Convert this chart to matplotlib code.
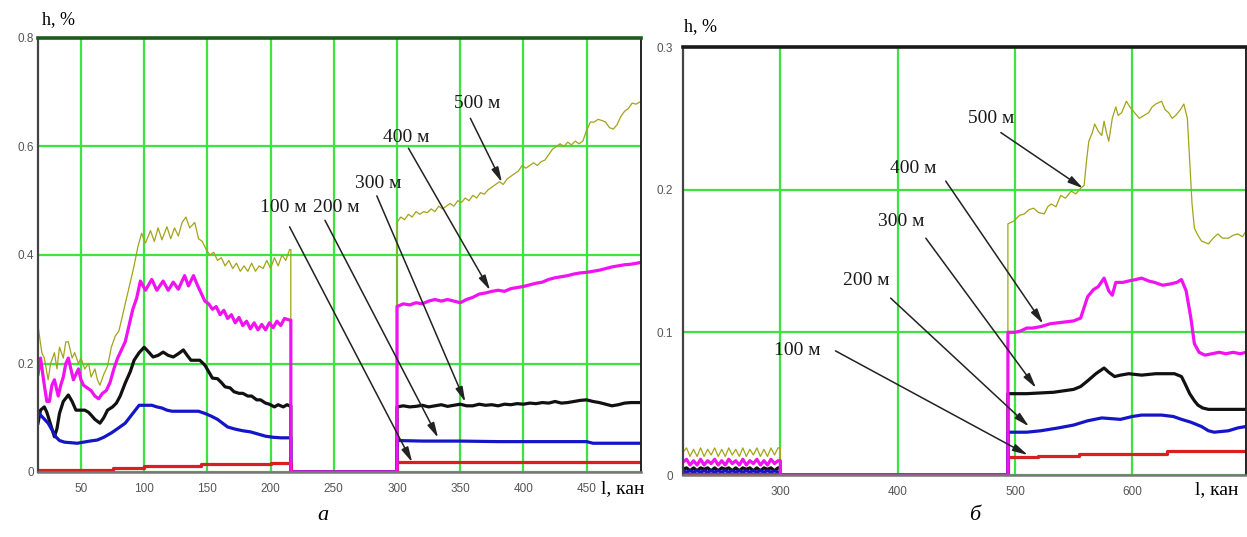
import matplotlib
matplotlib.use("Agg")
import matplotlib.pyplot as plt

# ---------------- data: panel "а" (channels 16..492) ----------------
gap_a = (216, 300)
xlim_a = (16, 493)

olive_a1 = [(16, 0.27), (19, 0.22), (21, 0.21), (24, 0.17), (26, 0.20), (29, 0.22), (31, 0.19),
            (33, 0.23), (36, 0.21), (38, 0.24), (40, 0.24), (43, 0.21), (45, 0.22), (48, 0.20),
            (50, 0.21), (53, 0.19), (56, 0.20), (58, 0.175), (61, 0.19), (63, 0.17), (65, 0.16),
            (68, 0.18), (71, 0.195), (74, 0.23), (77, 0.25), (80, 0.26), (83, 0.29), (86, 0.32),
            (89, 0.35), (92, 0.38), (95, 0.415), (98, 0.44), (101, 0.422), (105, 0.445), (108, 0.425),
            (111, 0.45), (114, 0.428), (118, 0.452), (121, 0.43), (124, 0.45), (127, 0.435),
            (130, 0.46), (133, 0.47), (136, 0.45), (140, 0.46), (143, 0.43), (146, 0.425),
            (149, 0.41), (152, 0.40), (155, 0.405), (158, 0.39), (161, 0.395), (164, 0.38),
            (167, 0.39), (170, 0.375), (173, 0.385), (176, 0.37), (179, 0.38), (182, 0.37),
            (185, 0.385), (188, 0.37), (191, 0.38), (194, 0.375), (197, 0.39), (200, 0.375),
            (203, 0.395), (206, 0.38), (209, 0.40), (212, 0.39), (215, 0.41)]
olive_a2 = [(300, 0.46), (303, 0.47), (306, 0.465), (309, 0.475), (312, 0.47), (315, 0.48),
            (318, 0.475), (321, 0.48), (324, 0.478), (327, 0.485), (330, 0.48), (333, 0.49),
            (336, 0.485), (339, 0.49), (342, 0.495), (345, 0.49), (348, 0.50), (351, 0.497),
            (354, 0.505), (357, 0.50), (360, 0.51), (363, 0.505), (366, 0.515), (369, 0.512),
            (372, 0.52), (375, 0.525), (378, 0.53), (381, 0.535), (384, 0.53), (387, 0.54),
            (390, 0.545), (393, 0.55), (396, 0.555), (399, 0.565), (402, 0.56), (405, 0.565),
            (408, 0.57), (411, 0.565), (414, 0.572), (417, 0.575), (420, 0.585), (423, 0.595),
            (426, 0.60), (429, 0.605), (432, 0.60), (435, 0.608), (438, 0.603), (441, 0.61),
            (444, 0.605), (447, 0.61), (450, 0.63), (453, 0.645), (456, 0.645), (459, 0.65),
            (462, 0.648), (465, 0.645), (468, 0.635), (471, 0.632), (474, 0.64), (477, 0.655),
            (480, 0.665), (483, 0.67), (486, 0.68), (489, 0.678), (492, 0.682)]

magenta_a1 = [(16, 0.18), (18, 0.21), (21, 0.16), (23, 0.13), (25, 0.13), (27, 0.16), (29, 0.17),
              (32, 0.14), (34, 0.16), (36, 0.175), (38, 0.20), (40, 0.21), (42, 0.19), (44, 0.17),
              (46, 0.18), (48, 0.19), (50, 0.17), (52, 0.16), (55, 0.155), (58, 0.15), (61, 0.14),
              (64, 0.135), (67, 0.145), (70, 0.15), (73, 0.165), (76, 0.19), (79, 0.21), (82, 0.225),
              (85, 0.24), (88, 0.27), (91, 0.30), (94, 0.32), (97, 0.352), (101, 0.335), (106, 0.355),
              (110, 0.335), (115, 0.352), (119, 0.335), (123, 0.35), (127, 0.337), (132, 0.362),
              (135, 0.343), (139, 0.362), (142, 0.345), (145, 0.33), (148, 0.315), (151, 0.31),
              (154, 0.30), (157, 0.305), (160, 0.29), (163, 0.298), (166, 0.283), (169, 0.29),
              (172, 0.275), (175, 0.285), (178, 0.27), (181, 0.278), (184, 0.264), (187, 0.275),
              (190, 0.262), (193, 0.272), (196, 0.262), (199, 0.275), (202, 0.266), (205, 0.278),
              (208, 0.27), (211, 0.283), (215, 0.28)]
magenta_a2 = [(300, 0.305), (305, 0.31), (310, 0.308), (315, 0.312), (320, 0.31), (325, 0.315),
              (330, 0.318), (335, 0.315), (340, 0.318), (345, 0.315), (350, 0.312), (355, 0.318),
              (360, 0.322), (365, 0.328), (370, 0.33), (375, 0.333), (380, 0.335), (385, 0.333),
              (390, 0.338), (395, 0.34), (400, 0.342), (405, 0.345), (410, 0.348), (415, 0.35),
              (420, 0.355), (425, 0.358), (430, 0.36), (435, 0.362), (440, 0.365), (445, 0.367),
              (450, 0.368), (455, 0.37), (460, 0.372), (465, 0.375), (470, 0.378), (475, 0.38),
              (480, 0.382), (485, 0.383), (490, 0.385), (492, 0.386)]

black_a1 = [(16, 0.09), (18, 0.114), (21, 0.12), (23, 0.11), (25, 0.095), (27, 0.08), (29, 0.065),
            (31, 0.08), (33, 0.108), (36, 0.13), (40, 0.142), (43, 0.13), (46, 0.114), (50, 0.114),
            (53, 0.114), (56, 0.11), (58, 0.105), (61, 0.097), (65, 0.09), (68, 0.10), (71, 0.114),
            (75, 0.12), (78, 0.127), (81, 0.14), (85, 0.164), (89, 0.185), (92, 0.206), (96, 0.22),
            (100, 0.23), (104, 0.22), (107, 0.212), (111, 0.215), (115, 0.221), (119, 0.215),
            (123, 0.212), (127, 0.218), (131, 0.225), (134, 0.215), (137, 0.206), (141, 0.206),
            (144, 0.206), (148, 0.197), (151, 0.185), (154, 0.173), (158, 0.172), (161, 0.165),
            (164, 0.157), (168, 0.155), (171, 0.148), (175, 0.145), (178, 0.145), (182, 0.14),
            (185, 0.14), (189, 0.133), (192, 0.133), (196, 0.127), (199, 0.125), (203, 0.12),
            (206, 0.124), (210, 0.12), (213, 0.124), (215, 0.122)]
black_a2 = [(300, 0.12), (305, 0.122), (310, 0.12), (315, 0.121), (320, 0.123), (325, 0.12),
            (330, 0.122), (335, 0.124), (340, 0.121), (345, 0.123), (350, 0.125), (355, 0.122),
            (360, 0.122), (365, 0.125), (370, 0.123), (375, 0.124), (380, 0.122), (385, 0.125),
            (390, 0.124), (395, 0.126), (400, 0.125), (405, 0.127), (410, 0.126), (415, 0.128),
            (420, 0.127), (425, 0.13), (430, 0.127), (435, 0.128), (440, 0.13), (445, 0.132),
            (450, 0.133), (455, 0.13), (460, 0.128), (465, 0.125), (470, 0.122), (475, 0.124),
            (480, 0.127), (485, 0.128), (490, 0.128), (492, 0.128)]

blue_a1 = [(16, 0.11), (20, 0.10), (24, 0.09), (27, 0.078), (30, 0.065), (33, 0.058), (37, 0.055),
           (42, 0.054), (47, 0.053), (52, 0.055), (57, 0.057), (63, 0.059), (68, 0.064), (74, 0.072),
           (79, 0.08), (85, 0.09), (89, 0.102), (93, 0.114), (96, 0.123), (100, 0.123), (106, 0.123),
           (110, 0.12), (114, 0.118), (118, 0.114), (122, 0.112), (130, 0.112), (136, 0.112),
           (143, 0.112), (148, 0.108), (153, 0.103), (158, 0.097), (162, 0.09), (166, 0.083),
           (172, 0.079), (178, 0.076), (184, 0.074), (190, 0.07), (196, 0.066), (202, 0.064),
           (208, 0.063), (215, 0.063)]
blue_a2 = [(300, 0.058), (320, 0.057), (350, 0.057), (380, 0.056), (410, 0.056), (450, 0.056),
           (455, 0.053), (470, 0.053), (492, 0.053)]

red_a1 = [(16, 0.004), (75, 0.004), (75, 0.008), (100, 0.008), (100, 0.011), (145, 0.011),
          (145, 0.014), (200, 0.014), (200, 0.017), (215, 0.017)]
red_a2 = [(300, 0.018), (400, 0.018), (492, 0.018)]

# ---------------- data: panel "б" (channels 217..697) ----------------
gap_b = (300, 494)
xlim_b = (217, 697)
x_small = [217, 220, 223, 226, 229, 232, 235, 238, 241, 244, 247, 250, 253, 256,
           259, 262, 265, 268, 271, 274, 277, 280, 283, 286, 289, 292, 295, 298]
olive_b1 = [0.016, 0.019, 0.013, 0.018, 0.013, 0.019, 0.013, 0.018, 0.014, 0.019, 0.013, 0.018, 0.013, 0.019,
            0.014, 0.018, 0.013, 0.019, 0.013, 0.018, 0.014, 0.019, 0.013, 0.018, 0.013, 0.019, 0.014, 0.019]
magenta_b1 = [0.009, 0.011, 0.007, 0.010, 0.007, 0.011, 0.007, 0.010, 0.008, 0.011, 0.007, 0.010, 0.007, 0.011,
              0.008, 0.010, 0.007, 0.011, 0.007, 0.010, 0.008, 0.011, 0.007, 0.010, 0.007, 0.011, 0.008, 0.010]
black_b1 = [0.004, 0.005, 0.003, 0.005, 0.003, 0.005, 0.004, 0.005, 0.003, 0.005, 0.003, 0.005, 0.004, 0.005,
            0.003, 0.005, 0.003, 0.005, 0.004, 0.005, 0.003, 0.005, 0.003, 0.005, 0.004, 0.005, 0.003, 0.005]
blue_b1 = [0.003, 0.002, 0.003, 0.002, 0.003, 0.002, 0.003, 0.002, 0.003, 0.002, 0.003, 0.002, 0.003, 0.002,
           0.003, 0.002, 0.003, 0.002, 0.003, 0.002, 0.003, 0.002, 0.003, 0.002, 0.003, 0.002, 0.003, 0.002]
red_b1 = [0.001, 0.001, 0.001, 0.001, 0.001, 0.001, 0.001, 0.001, 0.001, 0.001, 0.001, 0.001, 0.001, 0.001,
          0.001, 0.001, 0.001, 0.001, 0.001, 0.001, 0.001, 0.001, 0.001, 0.001, 0.001, 0.001, 0.001, 0.001]

olive_b2 = [(494, 0.176), (499, 0.178), (504, 0.182), (508, 0.183), (512, 0.186), (516, 0.187),
            (520, 0.184), (525, 0.183), (528, 0.188), (531, 0.19), (535, 0.188), (539, 0.196),
            (543, 0.194), (548, 0.199), (552, 0.197), (556, 0.201), (559, 0.203), (561, 0.22),
            (563, 0.234), (566, 0.24), (568, 0.246), (571, 0.241), (574, 0.238), (576, 0.248),
            (578, 0.24), (580, 0.234), (583, 0.25), (586, 0.258), (588, 0.252), (591, 0.254),
            (595, 0.262), (598, 0.258), (602, 0.254), (606, 0.25), (610, 0.252), (614, 0.254),
            (617, 0.258), (620, 0.26), (625, 0.262), (628, 0.256), (631, 0.254), (634, 0.25),
            (637, 0.252), (641, 0.256), (644, 0.26), (647, 0.25), (649, 0.22), (651, 0.19),
            (653, 0.173), (656, 0.168), (659, 0.164), (662, 0.163), (665, 0.162), (669, 0.166),
            (673, 0.169), (677, 0.166), (682, 0.166), (686, 0.168), (690, 0.169), (694, 0.167),
            (697, 0.171)]
magenta_b2 = [(494, 0.10), (500, 0.10), (505, 0.101), (510, 0.103), (515, 0.103), (522, 0.104),
              (530, 0.106), (540, 0.107), (550, 0.108), (556, 0.11), (562, 0.125), (567, 0.13),
              (571, 0.132), (576, 0.138), (580, 0.129), (583, 0.126), (586, 0.135), (592, 0.135),
              (597, 0.136), (603, 0.137), (608, 0.138), (614, 0.136), (619, 0.135), (626, 0.133),
              (633, 0.134), (638, 0.135), (642, 0.137), (646, 0.129), (650, 0.11), (653, 0.092),
              (657, 0.086), (662, 0.084), (668, 0.085), (674, 0.086), (680, 0.085), (686, 0.086),
              (692, 0.085), (697, 0.086)]
black_b2 = [(494, 0.057), (510, 0.057), (533, 0.058), (550, 0.06), (556, 0.062), (562, 0.066),
            (569, 0.071), (576, 0.075), (580, 0.072), (585, 0.069), (590, 0.07), (597, 0.071),
            (608, 0.07), (620, 0.071), (636, 0.071), (642, 0.069), (645, 0.064), (649, 0.057),
            (653, 0.052), (656, 0.049), (660, 0.047), (665, 0.046), (680, 0.046), (697, 0.046)]
blue_b2 = [(494, 0.030), (510, 0.030), (522, 0.031), (537, 0.033), (550, 0.035), (562, 0.038),
           (574, 0.040), (590, 0.039), (600, 0.041), (608, 0.042), (625, 0.042), (635, 0.041),
           (642, 0.039), (650, 0.037), (659, 0.034), (665, 0.031), (670, 0.030), (682, 0.031),
           (690, 0.033), (697, 0.034)]
red_b2 = [(494, 0.0125), (520, 0.0125), (520, 0.013), (555, 0.013), (555, 0.015), (630, 0.015),
          (630, 0.017), (697, 0.017)]

# annotations: label, text position, arrow tail, arrow head (data coords)
notes_a = [("100 м", (210, 0.487), (215, 0.452), (312, 0.018)),
           ("200 м", (252, 0.487), (243, 0.464), (332.5, 0.063)),
           ("300 м", (285, 0.531), (284, 0.509), (354, 0.129)),
           ("400 м", (307, 0.617), (309, 0.597), (373.6, 0.335)),
           ("500 м", (363, 0.680), (358, 0.652), (383, 0.534))]
notes_b = [("500 м", (480, 0.250), (488, 0.240), (558, 0.201)),
           ("400 м", (413, 0.215), (441, 0.206), (524, 0.106)),
           ("300 м", (403, 0.178), (424, 0.166), (518, 0.061)),
           ("200 м", (373, 0.136), (394, 0.124), (512, 0.034)),
           ("100 м", (314, 0.087), (347, 0.087), (511, 0.014))]

colors = {"500": "#a3a318", "400": "#f012f0", "300": "#111111", "200": "#1515c8", "100": "#d82020"}
widths = {"500": 0.9, "400": 2.3, "300": 2.3, "200": 2.3, "100": 2.3}

SERIF = ["Liberation Serif", "DejaVu Serif"]
SANS = ["Liberation Sans", "DejaVu Sans"]


def join_pairs(seg1, seg2, gap):
    x1, y1 = zip(*seg1)
    x2, y2 = zip(*seg2)
    x = list(x1) + [gap[0], gap[0], gap[1]] + list(x2)
    y = list(y1) + [y1[-1], 0, 0] + list(y2)
    return x, y


def join_small(xs, ys, seg2, gap):
    x2, y2 = zip(*seg2)
    x = list(xs) + [gap[0], gap[0], gap[1]] + list(x2)
    y = list(ys) + [ys[-1], 0, 0] + list(y2)
    return x, y


fig = plt.figure(figsize=(12.47, 5.37), dpi=100)
W, H = 1247, 537
axA = fig.add_axes([38 / W, 1 - 472 / H, (641 - 38) / W, (472 - 38) / H])
axB = fig.add_axes([683 / W, 1 - 475 / H, (1246 - 683) / W, (475 - 47) / H])

series_a = {"500": join_pairs(olive_a1, olive_a2, gap_a),
            "300": join_pairs(black_a1, black_a2, gap_a),
            "200": join_pairs(blue_a1, blue_a2, gap_a),
            "100": join_pairs(red_a1, red_a2, gap_a),
            "400": join_pairs(magenta_a1, magenta_a2, gap_a)}
series_b = {"500": join_small(x_small, olive_b1, olive_b2, gap_b),
            "300": join_small(x_small, black_b1, black_b2, gap_b),
            "200": join_small(x_small, blue_b1, blue_b2, gap_b),
            "100": join_small(x_small, red_b1, red_b2, gap_b),
            "400": join_small(x_small, magenta_b1, magenta_b2, gap_b)}

grid_col = "#3fe33f"


def style(ax, xlim, ylim, xt, yt, ylabels, top_col, ypad):
    ax.set_xlim(*xlim)
    ax.set_ylim(*ylim)
    ax.set_xticks(xt)
    ax.set_yticks(yt)
    ax.set_yticklabels(ylabels)
    ax.set_xticklabels([str(v) for v in xt])
    ax.grid(True, color=grid_col, lw=1.6)
    ax.set_axisbelow(True)
    ax.tick_params(axis="both", length=0, labelsize=8.5, labelcolor="#555555")
    ax.tick_params(axis="x", pad=8)
    ax.tick_params(axis="y", pad=ypad)
    for lab in ax.get_xticklabels() + ax.get_yticklabels():
        lab.set_family(SANS)
    ax.spines["left"].set_color("#444444")
    ax.spines["left"].set_linewidth(1.6)
    ax.spines["bottom"].set_color("#777777")
    ax.spines["bottom"].set_linewidth(1.8)
    ax.spines["top"].set_color(top_col)
    ax.spines["top"].set_linewidth(2.6)
    ax.spines["right"].set_color("#222222")
    ax.spines["right"].set_linewidth(1.4)


style(axA, xlim_a, (0, 0.8), [50, 100, 150, 200, 250, 300, 350, 400, 450],
      [0, 0.2, 0.4, 0.6, 0.8], ["0", "0.2", "0.4", "0.6", "0.8"], "#1d5c1d", 3)
style(axB, xlim_b, (0, 0.3), [300, 400, 500, 600],
      [0, 0.1, 0.2, 0.3], ["0", "0.1", "0.2", "0.3"], "#1a1a1a", 7)

for ax, series in ((axA, series_a), (axB, series_b)):
    for key, (x, y) in series.items():
        ax.plot(x, y, color=colors[key], lw=widths[key], solid_joinstyle="round")

for ax, notes in ((axA, notes_a), (axB, notes_b)):
    for label, tpos, tail, head in notes:
        ax.text(tpos[0], tpos[1], label, fontsize=14, family=SERIF, ha="center", va="center",
                color="#1a1a1a")
        ax.annotate("", xy=head, xytext=tail,
                    arrowprops=dict(arrowstyle="-|>,head_length=0.9,head_width=0.22",
                                    color="#222222", lw=1.1, shrinkA=0, shrinkB=0))

# axis titles
fig.text(42 / W, 1 - 20 / H, "h, %", fontsize=13, family=SERIF, ha="left", va="center")
fig.text(684 / W, 1 - 27 / H, "h, %", fontsize=13, family=SERIF, ha="left", va="center")
fig.text(601 / W, 1 - 489 / H, "l, кан", fontsize=14, family=SERIF, ha="left", va="center")
fig.text(1195 / W, 1 - 490 / H, "l, кан", fontsize=14, family=SERIF, ha="left", va="center")

# panel letters
fig.text(323 / W, 1 - 516 / H, "а", fontsize=16, family=SERIF, style="italic", ha="center", va="center")
fig.text(975 / W, 1 - 516 / H, "б", fontsize=16, family=SERIF, style="italic", ha="center", va="center")

fig.savefig("out.png", dpi=100)
